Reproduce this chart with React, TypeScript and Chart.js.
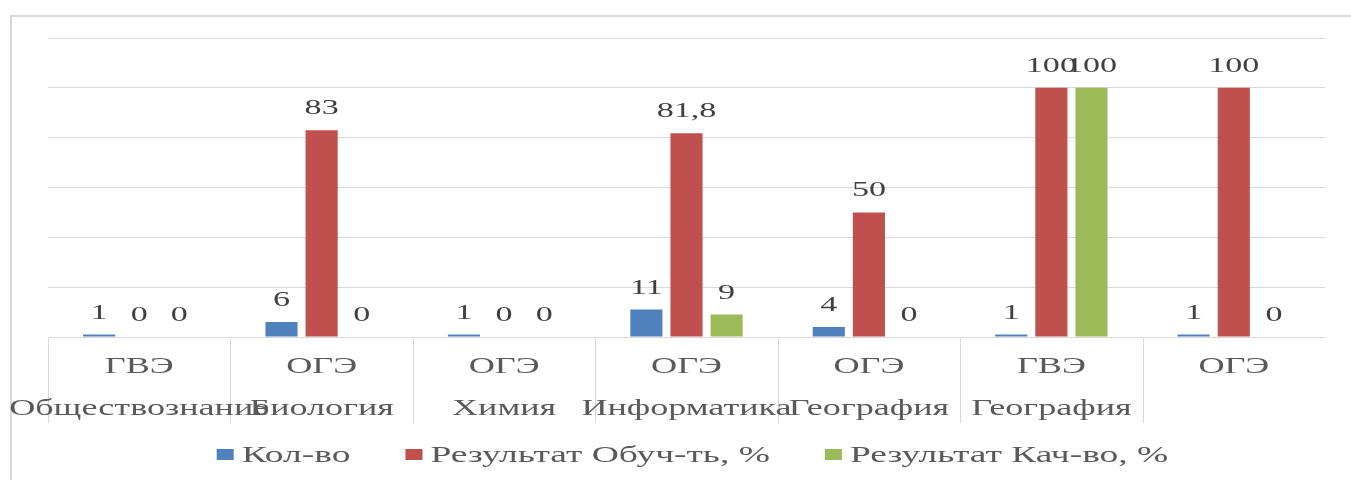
import React, { useEffect, useRef } from "react";
import { Chart, registerables } from "chart.js";

Chart.register(...registerables);

const examTypes = ["ГВЭ", "ОГЭ", "ОГЭ", "ОГЭ", "ОГЭ", "ГВЭ", "ОГЭ"];
const subjects = ["Обществознание", "Биология", "Химия", "Информатика", "География", "География", ""];
const countValues = [1, 6, 1, 11, 4, 1, 1];
const learnValues = [0, 83, 0, 81.8, 50, 100, 100];
const qualityValues = [0, 0, 0, 9, 0, 100, 0];
const seriesNames = ["Кол-во", "Результат Обуч-ть, %", "Результат Кач-во, %"];
const seriesColors = ["#4F81BD", "#C0504D", "#9BBB59"];

const SX_LABEL = 1.55;
const SX_AXIS = 1.57;
const SX_LEGEND = 1.63;
const FONT_LABEL = "22px 'Liberation Serif', 'Times New Roman', serif";
const FONT_AXIS = "23px 'Liberation Serif', 'Times New Roman', serif";

function drawText(ctx: CanvasRenderingContext2D, text: string, x: number, y: number, align: CanvasTextAlign, sx: number) {
  ctx.save();
  ctx.translate(x, y);
  ctx.scale(sx, 1);
  ctx.textAlign = align;
  ctx.textBaseline = "alphabetic";
  ctx.fillText(text, 0, 0);
  ctx.restore();
}

const customPlugin = {
  id: "customDraw",
  beforeDraw(chart: any) {
    const ctx = chart.ctx as CanvasRenderingContext2D;
    ctx.save();
    ctx.fillStyle = "#ffffff";
    ctx.fillRect(0, 0, chart.width, chart.height);
    ctx.strokeStyle = "#d9d9d9";
    ctx.lineWidth = 2;
    ctx.strokeRect(11, 16, chart.width + 100, chart.height + 100);
    ctx.restore();
  },
  afterDatasetsDraw(chart: any) {
    const ctx = chart.ctx as CanvasRenderingContext2D;
    ctx.save();
    ctx.font = FONT_LABEL;
    ctx.fillStyle = "#404040";
    chart.data.datasets.forEach((ds: any, di: number) => {
      const meta = chart.getDatasetMeta(di);
      meta.data.forEach((el: any, i: number) => {
        const v = ds.data[i];
        const label = String(v).replace(".", ",");
        drawText(ctx, label, el.x, el.y - 16, "center", SX_LABEL);
      });
    });
    ctx.restore();
  },
  afterDraw(chart: any) {
    const ctx = chart.ctx as CanvasRenderingContext2D;
    const xs = chart.scales.x;
    const area = chart.chartArea;
    const n = examTypes.length;
    const catW = (area.right - area.left) / n;
    ctx.save();
    ctx.strokeStyle = "#d9d9d9";
    ctx.lineWidth = 1;
    for (let i = 0; i < n; i++) {
      const x = Math.round(xs.getPixelForValue(i) - catW / 2) + 0.5;
      ctx.beginPath();
      ctx.moveTo(x, area.bottom);
      ctx.lineTo(x, area.bottom + 86);
      ctx.stroke();
    }
    ctx.font = FONT_AXIS;
    ctx.fillStyle = "#595959";
    for (let i = 0; i < n; i++) {
      const cx = xs.getPixelForValue(i);
      drawText(ctx, examTypes[i], cx, area.bottom + 36, "center", SX_AXIS);
    }
    for (let i = 0; i < n; i++) {
      const cx = xs.getPixelForValue(i);
      if (subjects[i]) drawText(ctx, subjects[i], cx, area.bottom + 78, "center", SX_AXIS);
    }
    const boxW = 17;
    const boxH = 11;
    const boxGap = 8;
    const itemGap = 55;
    const widths = seriesNames.map((s) => ctx.measureText(s).width * SX_LEGEND);
    const total = widths.reduce((a, w) => a + boxW + boxGap + w, 0) + itemGap * (seriesNames.length - 1);
    let x = (area.left + area.right) / 2 + 6 - total / 2;
    const baseY = area.bottom + 125;
    seriesNames.forEach((s, i) => {
      ctx.fillStyle = seriesColors[i];
      ctx.fillRect(x, baseY - 13, boxW, boxH);
      x += boxW + boxGap;
      ctx.fillStyle = "#595959";
      drawText(ctx, s, x, baseY, "left", SX_LEGEND);
      x += widths[i] + itemGap;
    });
    ctx.restore();
  },
};

export default function App() {
  const ref = useRef<HTMLCanvasElement>(null);
  useEffect(() => {
    if (!ref.current) return;
    const chart = new Chart(ref.current, {
      type: "bar",
      data: {
        labels: examTypes.map((e, i) => e + " " + subjects[i]),
        datasets: [
          { label: seriesNames[0], data: countValues, backgroundColor: seriesColors[0] },
          { label: seriesNames[1], data: learnValues, backgroundColor: seriesColors[1] },
          { label: seriesNames[2], data: qualityValues, backgroundColor: seriesColors[2] },
        ],
      },
      options: {
        responsive: false,
        animation: false,
        devicePixelRatio: 1,
        layout: { padding: { left: 48, right: 26, top: 38, bottom: 143 } },
        datasets: { bar: { categoryPercentage: 0.66, barPercentage: 0.8 } },
        plugins: { legend: { display: false }, tooltip: { enabled: false } },
        scales: {
          x: { display: false, offset: true },
          y: {
            min: 0,
            max: 120,
            ticks: { display: false, stepSize: 20 },
            border: { display: false },
            grid: { color: "#d9d9d9", drawTicks: false, lineWidth: 1 },
            afterFit: (s: any) => {
              s.width = 0;
            },
          },
        },
      },
      plugins: [customPlugin],
    } as any);
    return () => chart.destroy();
  }, []);
  return (
    <div style={{ position: "fixed", left: 0, top: 0, width: 1351, height: 480, background: "#fff" }}>
      <canvas ref={ref} width={1351} height={480} style={{ display: "block" }} />
    </div>
  );
}
